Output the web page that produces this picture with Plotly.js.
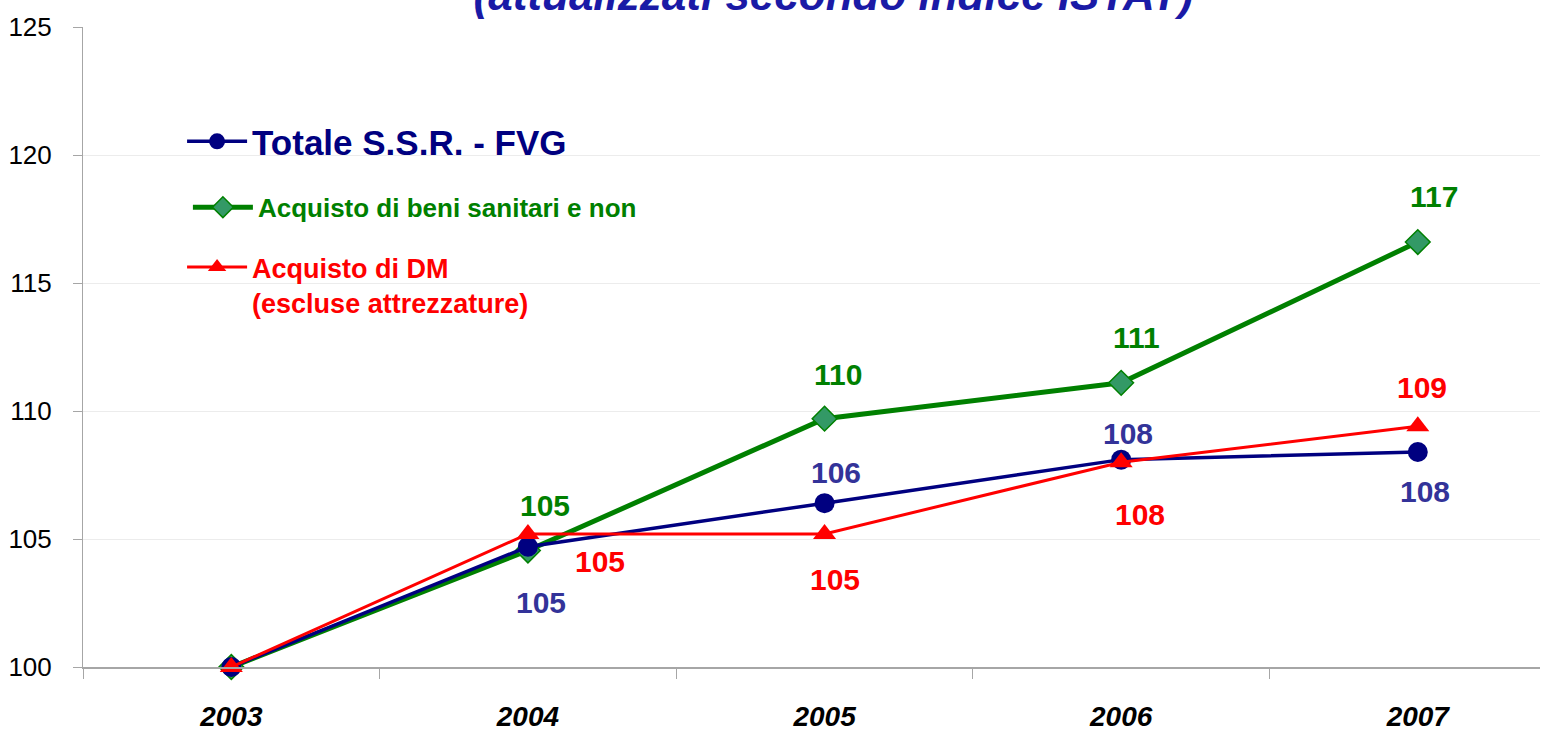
<!DOCTYPE html>
<html>
<head>
<meta charset="utf-8">
<script src="https://cdn.plot.ly/plotly-3.0.1.min.js"></script>
<style>html,body{margin:0;padding:0;background:#fff;}#chart{width:1542px;height:736px;}</style>
</head>
<body>
<div id="chart"></div>
<script>
const years = ['2003', '2004', '2005', '2006', '2007'];
const totaleSSR = [100, 104.7, 106.4, 108.1, 108.4];
const beniSanitari = [100, 104.55, 109.7, 111.1, 116.6];
const acquistoDM = [100, 105.2, 105.2, 108.0, 109.4];
const yTicks = [100, 105, 110, 115, 120, 125];

const names = {
  tot: 'Totale S.S.R. - FVG',
  beni: 'Acquisto di beni sanitari e non',
  dm: 'Acquisto di DM<br>(escluse attrezzature)'
};

const NAVY = '#000080', GREEN = '#008000', RED = '#FF0000';
const ARIAL = '"Liberation Sans", Arial, sans-serif';

const traces = [
  {
    x: years, y: beniSanitari, type: 'scatter', mode: 'lines+markers', name: names.beni,
    line: {color: GREEN, width: 5},
    marker: {symbol: 'diamond', size: 19, color: '#339966', line: {color: GREEN, width: 1.5}},
    legend: 'legend2', cliponaxis: false
  },
  {
    x: years, y: totaleSSR, type: 'scatter', mode: 'lines+markers', name: names.tot,
    line: {color: NAVY, width: 3.5},
    marker: {symbol: 'circle', size: 20, color: NAVY},
    legend: 'legend', cliponaxis: false
  },
  {
    x: years, y: acquistoDM, type: 'scatter', mode: 'lines+markers', name: names.dm,
    line: {color: RED, width: 3},
    marker: {symbol: 'triangle-up', size: 20, color: RED},
    legend: 'legend3', cliponaxis: false
  }
];

// label offsets (px) for each point, first year has no label
const offTot = [null, [13, -56], [11, 31], [7, 26], [7, -40]];
const offBeni = [null, [17, 45], [13, 44], [15, 45], [16, 46]];
const offDM = [null, [72, -28], [10, -46], [19, -52], [4, 39]];

const annotations = [];
function addLabels(vals, offs, color) {
  vals.forEach((v, i) => {
    if (!offs[i]) return;
    annotations.push({
      x: i, y: v, xref: 'x', yref: 'y',
      text: String(Math.round(v)), showarrow: false,
      xanchor: 'center', yanchor: 'middle',
      xshift: offs[i][0], yshift: offs[i][1],
      font: {family: ARIAL, size: 30, color: color, weight: 'bold'}
    });
  });
}
addLabels(totaleSSR, offTot, '#333399');
addLabels(beniSanitari, offBeni, GREEN);
addLabels(acquistoDM, offDM, RED);

const layout = {
  width: 1542, height: 736,
  margin: {l: 83, r: 2, t: 27, b: 69},
  paper_bgcolor: '#ffffff', plot_bgcolor: '#ffffff',
  title: {
    text: '(attualizzati secondo indice ISTAT)',
    xref: 'paper', x: 0.515, xanchor: 'center',
    yref: 'paper', y: 1, yanchor: 'bottom', pad: {b: 17},
    font: {family: ARIAL, size: 44, color: '#1a1aa6', weight: 'bold', style: 'italic'}
  },
  xaxis: {
    type: 'category', range: [-0.5, 4.412],
    tickson: 'boundaries', ticks: 'outside', ticklen: 10, tickcolor: '#a6a6a6', tickwidth: 1,
    showline: true, linecolor: '#a6a6a6', linewidth: 1.5,
    showgrid: false, zeroline: false,
    ticklabelstandoff: 24,
    tickfont: {family: ARIAL, size: 28, color: '#000000', weight: 'bold', style: 'italic'}
  },
  yaxis: {
    range: [100, 125], tickvals: yTicks, ticks: 'outside', ticklen: 9, tickcolor: '#a6a6a6',
    showline: true, linecolor: '#a6a6a6', linewidth: 1,
    showgrid: true, gridcolor: '#ececec', gridwidth: 1, zeroline: false,
    ticklabelstandoff: 16,
    tickfont: {family: ARIAL, size: 26, color: '#000000'}
  },
  legend: {
    x: 0.068, y: 0.867, xanchor: 'left', yanchor: 'top', bgcolor: 'rgba(0,0,0,0)',
    itemwidth: 60, font: {family: ARIAL, size: 35, color: NAVY, weight: 'bold'}
  },
  legend2: {
    x: 0.072, y: 0.755, xanchor: 'left', yanchor: 'top', bgcolor: 'rgba(0,0,0,0)',
    itemwidth: 60, font: {family: ARIAL, size: 26, color: GREEN, weight: 'bold'}
  },
  legend3: {
    x: 0.068, y: 0.6625, xanchor: 'left', yanchor: 'top', bgcolor: 'rgba(0,0,0,0)',
    itemwidth: 60, valign: 'top', font: {family: ARIAL, size: 27, color: RED, weight: 'bold'}
  },
  annotations: annotations,
  showlegend: true
};

Plotly.newPlot('chart', traces, layout, {displayModeBar: false, staticPlot: true});
</script>
</body>
</html>
